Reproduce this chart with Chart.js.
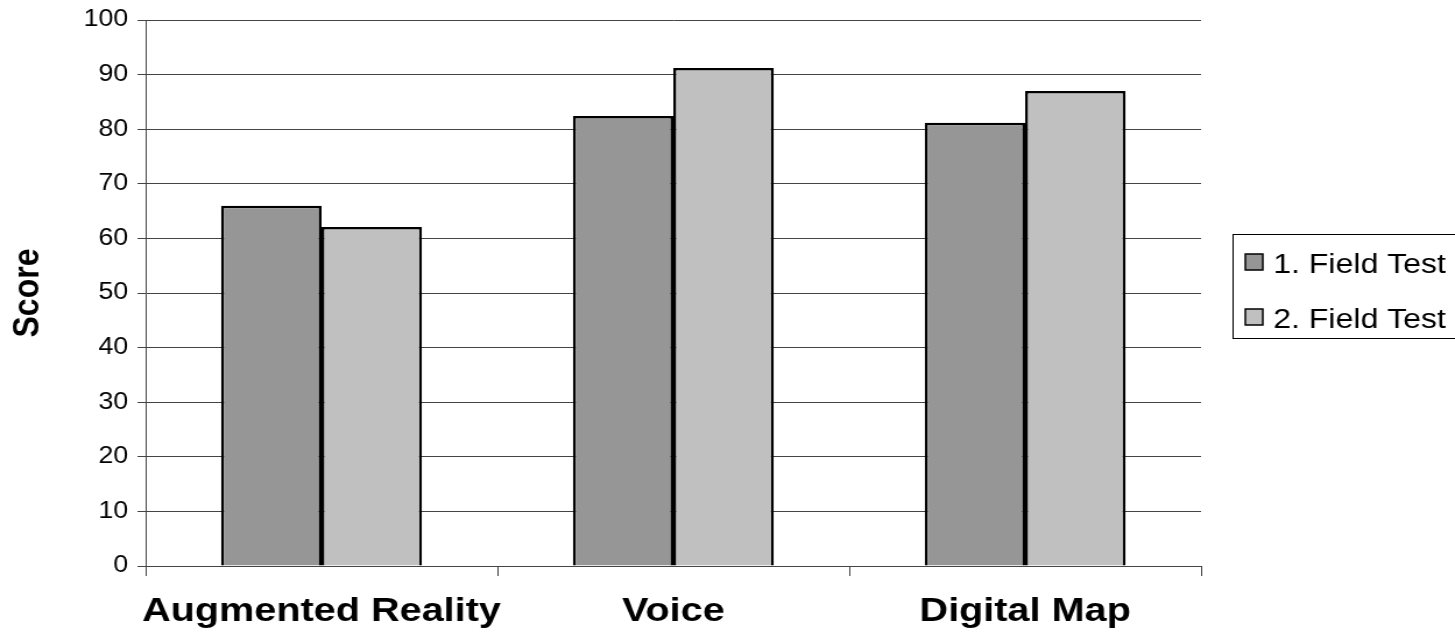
<!DOCTYPE html>
<html lang="en">
<head>
    <meta charset="UTF-8">
    <title>Field Test Scores</title>
    <script src="https://cdn.jsdelivr.net/npm/chart.js"></script>
    <style>
        html, body { margin: 0; padding: 0; background: #fff; overflow: hidden; }
    </style>
</head>
<body>
    <!-- the reference is stretched wider than tall, so the canvas is drawn narrow and scaled out -->
    <canvas id="scoreChart" width="1249" height="633" style="width:1455px;height:633px;display:block"></canvas>

    <script>
        const categories = ['Augmented Reality', 'Voice', 'Digital Map'];
        const seriesNames = ['1. Field Test', '2. Field Test'];
        const firstTest = [66, 82.4, 81.2];
        const secondTest = [62.1, 91.2, 87];
        const seriesColors = ['#969696', '#c0c0c0'];

        const FONT = '"Liberation Sans", Arial, sans-serif';

        // boxed legend on the right, like the spreadsheet one
        const boxedLegend = {
            id: 'boxedLegend',
            afterDraw(chart) {
                const ctx = chart.ctx;
                ctx.save();
                ctx.strokeStyle = '#000';
                ctx.lineWidth = 1;
                ctx.strokeRect(1058.5, 234.5, 260, 104);
                chart.data.datasets.forEach((ds, i) => {
                    const y = 254 + i * 55;
                    ctx.fillStyle = ds.backgroundColor;
                    ctx.fillRect(1069, y, 15, 16);
                    ctx.lineWidth = 1.5;
                    ctx.strokeStyle = '#000';
                    ctx.strokeRect(1069, y, 15, 16);
                    ctx.fillStyle = '#000';
                    ctx.font = '27.5px ' + FONT;
                    ctx.textBaseline = 'alphabetic';
                    ctx.fillText(ds.label, 1093, y + 18.5);
                });
                ctx.restore();
            }
        };

        new Chart(document.getElementById('scoreChart').getContext('2d'), {
            type: 'bar',
            data: {
                labels: categories,
                datasets: [{
                    label: seriesNames[0],
                    data: firstTest,
                    backgroundColor: seriesColors[0],
                    borderColor: '#000',
                    borderWidth: 2.5
                }, {
                    label: seriesNames[1],
                    data: secondTest,
                    backgroundColor: seriesColors[1],
                    borderColor: '#000',
                    borderWidth: 2.5
                }]
            },
            options: {
                responsive: false,
                animation: false,
                devicePixelRatio: 1,
                categoryPercentage: 0.571,
                barPercentage: 1,
                layout: { padding: { top: 20, right: 218, left: 0, bottom: 0 } },
                plugins: {
                    legend: { display: false },
                    tooltip: { enabled: false }
                },
                scales: {
                    x: {
                        grid: { display: true, drawOnChartArea: false, offset: true, tickLength: 10, color: '#444' },
                        border: { display: true, color: '#444', width: 1 },
                        ticks: {
                            color: '#000', padding: 15, autoSkip: false, maxRotation: 0, minRotation: 0,
                            font: { family: FONT, size: 34, weight: 'bold' }
                        },
                        afterFit: scale => { scale.height = 67; }
                    },
                    y: {
                        min: 0,
                        max: 100,
                        ticks: { stepSize: 10, color: '#000', padding: 8, font: { family: FONT, size: 23 } },
                        grid: { color: '#444', lineWidth: 1, tickLength: 7 },
                        border: { display: true, color: '#444', width: 1 },
                        title: {
                            display: true,
                            text: 'Score',
                            color: '#000',
                            padding: { top: 5, bottom: 0 },
                            font: { family: FONT, size: 32, weight: 'bold' }
                        },
                        afterFit: scale => {
                            scale.width = 125;
                            scale.paddingTop = 8;
                            scale.paddingBottom = 0;
                        }
                    }
                }
            },
            plugins: [boxedLegend]
        });
    </script>
</body>
</html>
